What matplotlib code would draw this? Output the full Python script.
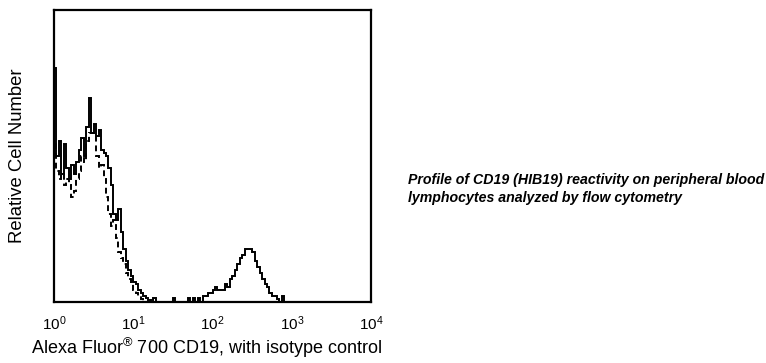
import matplotlib
matplotlib.use("Agg")
import matplotlib.pyplot as plt
import numpy as np

plt.rcParams['font.family'] = ['Liberation Sans', 'DejaVu Sans']
plt.rcParams['mathtext.fontset'] = 'custom'
plt.rcParams['mathtext.rm'] = 'Liberation Sans'
plt.rcParams['mathtext.it'] = 'Liberation Sans:italic'

# histogram channels: 128 log-spaced channels over 4 decades
n_channels = 128
decades = 4

# CD19 stained (solid), relative counts for channels 0..95
cd19_counts = [
    80, 50, 55, 44, 54, 46, 42, 47, 44, 48,
    52, 56, 50, 60, 70, 58, 61, 57, 59, 52,
    51, 50, 46, 40, 30, 28, 32, 24, 18, 14,
    11, 9, 7, 6, 4, 3, 2, 1.5, 0.7, 0,
    1.2, 0, 0, 0, 0, 0, 0, 0, 1.5, 0,
    0, 0, 0, 0, 1.5, 0, 1.5, 0, 1.5, 0,
    2, 2, 3, 3, 4, 5, 4, 4, 4, 6,
    5, 8, 9, 11, 13, 15, 16, 18, 18, 18,
    17, 14, 12, 10, 8, 6, 5, 3, 2, 2,
    1, 0, 2, 0, 0, 0,
]

# isotype control (dashed), relative counts for channels 0..39
isotype_counts = [
    55, 45, 42, 44, 40, 42, 40, 36, 38, 42,
    45, 50, 48, 55, 58, 58, 57, 50, 46, 47,
    42, 36, 30, 26, 28, 22, 17, 15, 13, 10,
    8, 6, 4, 3, 2, 1, 0.5, 0, 0, 0,
]

tick_values = [1, 10, 100, 1000, 10000]
tick_labels = [r'$10^0$', r'$10^1$', r'$10^2$', r'$10^3$', r'$10^4$']

edges = 10 ** (np.arange(n_channels + 1) * decades / n_channels)


def pad(counts):
    full = np.zeros(n_channels)
    full[:len(counts)] = counts
    return full


fig = plt.figure(figsize=(7.66, 3.63), dpi=100)
ax = fig.add_axes([54 / 766, 61 / 363, 317 / 766, 292 / 363])

ax.stairs(pad(isotype_counts), edges, color='black', lw=1.4, linestyle=(0, (3, 2)))
ax.stairs(pad(cd19_counts), edges, color='black', lw=1.4)

ax.set_xscale('log')
ax.set_xlim(1, 10000)
ax.set_ylim(0, 100)
ax.set_xticks(tick_values)
ax.set_xticklabels(tick_labels, fontsize=11)
ax.minorticks_off()
ax.set_yticks([])
ax.tick_params(axis='x', length=0, pad=9)
for s in ax.spines.values():
    s.set_linewidth(1.6)

ax.set_xlabel(r'Alexa Fluor$^{\circledR}$ 700 CD19, with isotype control', fontsize=13)
ax.xaxis.set_label_coords(0.48, -0.115)
ax.set_ylabel('Relative Cell Number', fontsize=13.3, labelpad=20)

fig.text(408 / 766, 1 - 189 / 363,
         'Profile of CD19 (HIB19) reactivity on peripheral blood\nlymphocytes analyzed by flow cytometry',
         fontsize=10.2, fontweight='bold', fontstyle='italic', va='center', ha='left', linespacing=1.34)

fig.savefig('out.png', dpi=100)
